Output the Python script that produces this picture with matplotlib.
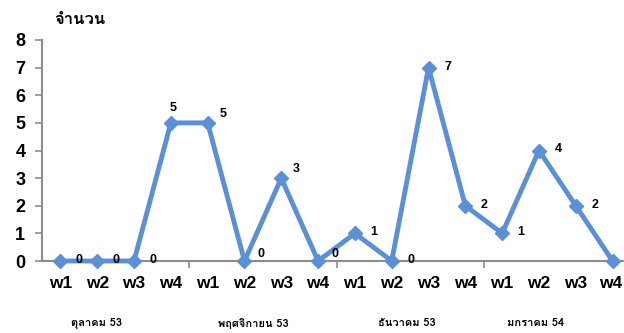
import matplotlib
matplotlib.use("Agg")
import matplotlib.pyplot as plt
from matplotlib import font_manager
from fontTools.ttLib import TTFont

# data
weeks = ["w1", "w2", "w3", "w4"] * 4
months = ["ตุลาคม 53", "พฤศจิกายน 53", "ธันวาคม 53", "มกราคม 54"]
counts = [0, 0, 0, 5, 5, 0, 3, 0, 1, 0, 7, 2, 1, 4, 2, 0]
y_label = "จำนวน"


def find_thai_font():
    # look for any installed font that has Thai glyphs
    for f in font_manager.fontManager.ttflist:
        try:
            cmap = TTFont(f.fname, fontNumber=0, lazy=True).getBestCmap()
        except Exception:
            continue
        if cmap and 0x0E08 in cmap and 0x0E19 in cmap:
            return f.name
    return None


thai_font = find_thai_font()
thai_family = [thai_font, "DejaVu Sans"] if thai_font else ["DejaVu Sans"]

line_color = "#5B8FD6"
axis_color = "#8C8C8C"

fig = plt.figure(figsize=(6.24, 3.33), dpi=100)
ax = fig.add_axes([42 / 624, 72 / 333, 589 / 624, 221 / 333])

x = list(range(len(counts)))
ax.plot(x, counts, color=line_color, linewidth=3.5, marker="D",
        markersize=7.5, markerfacecolor=line_color, markeredgecolor=line_color,
        clip_on=False, zorder=3)

# last label falls outside the picture in the reference, so it is left out
for i, v in enumerate(counts[:-1]):
    if i == 3:
        off, va = (2, 9), "bottom"
    elif i in (4, 6):
        off, va = (15, 9), "center"
    elif i in (5, 7):
        off, va = (17, 7), "center"
    else:
        off, va = (19, 1), "center"
    ax.annotate(str(v), (i, v), textcoords="offset pixels", xytext=off,
                ha="center", va=va, fontsize=9, fontweight="bold",
                family="Liberation Sans", color="black")

ax.set_xlim(-0.5, len(counts) - 0.5)
ax.set_ylim(0, 8)
ax.set_yticks(range(0, 9))
ax.set_yticklabels([str(t) for t in range(0, 9)], fontsize=13,
                   fontweight="bold", family="Liberation Sans")

# ticks only at month boundaries, week labels as text
ax.set_xticks([3.5, 7.5, 11.5])
ax.set_xticklabels([])
for i, w in enumerate(weeks):
    ax.text(i - (0.06 if i == len(weeks) - 1 else 0), -0.83, w,
            ha="center", va="center", fontsize=12.5,
            fontweight="bold", family="Liberation Sans", clip_on=False)

month_pos = [0.97, 5.23, 9.42, 12.92]
for p, m in zip(month_pos, months):
    ax.text(p, -2.25, m, ha="center", va="center", fontsize=8,
            fontweight="bold", family=thai_family, clip_on=False)

fig.text(80 / 624, 1 - 19 / 333, y_label, ha="center", va="center",
         fontsize=12, fontweight="bold", family=thai_family)

for s in ["top", "right"]:
    ax.spines[s].set_visible(False)
for s in ["left", "bottom"]:
    ax.spines[s].set_color(axis_color)
    ax.spines[s].set_linewidth(1.5)
ax.tick_params(axis="y", direction="out", length=5, width=1.2,
               color=axis_color, pad=7)
ax.tick_params(axis="x", direction="out", length=5, width=1.2,
               color=axis_color)

fig.savefig("out.png", dpi=100)
